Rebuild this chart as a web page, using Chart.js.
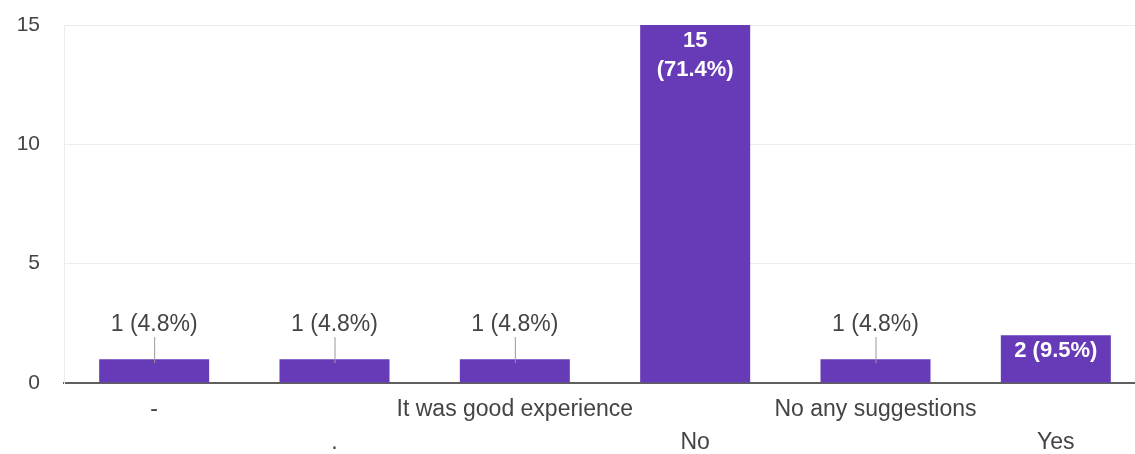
<!DOCTYPE html>
<html>
<head>
<meta charset="utf-8">
<script src="https://cdn.jsdelivr.net/npm/chart.js@4"></script>
<style>
  html, body { margin: 0; padding: 0; background: #fff; overflow: hidden; }
  #wrap { width: 1146px; height: 454px; }
</style>
</head>
<body>
<div id="wrap"><canvas id="myChart"></canvas></div>
<script>
'use strict';

// DATA
let answers = ['-', '.', 'It was good experience', 'No', 'No any suggestions', 'Yes'];
let counts = [1, 1, 1, 15, 1, 2];
let yTicks = [0, 5, 10, 15];

let purple = '#673ab7';
let textGray = '#444';
let fontFamily = '"Liberation Sans", Arial, sans-serif';

let total = counts.reduce((a, b) => a + b, 0);

// draws "n (x%)" on every bar, inside if it fits, else above with a small line
const barLabels = {
  id: 'barLabels',
  afterDatasetsDraw(chart) {
    const ctx = chart.ctx;
    const meta = chart.getDatasetMeta(0);
    ctx.save();
    meta.data.forEach((bar, i) => {
      const val = counts[i];
      const pct = (val / total * 100).toFixed(1) + '%';
      const x = bar.x;
      const top = bar.y;
      const h = bar.base - bar.y;
      ctx.textAlign = 'center';
      ctx.textBaseline = 'middle';
      if (h > 40) {
        ctx.fillStyle = '#fff';
        ctx.font = 'bold 22px ' + fontFamily;
        const one = val + ' (' + pct + ')';
        if (ctx.measureText(one).width < bar.width - 16) {
          ctx.fillText(one, x, top + 16);
        } else {
          ctx.fillText(String(val), x, top + 16);
          ctx.fillText('(' + pct + ')', x, top + 45);
        }
      } else {
        ctx.strokeStyle = '#999';
        ctx.lineWidth = 1;
        ctx.beginPath();
        ctx.moveTo(x + 0.5, top - 22);
        ctx.lineTo(x + 0.5, top + 4);
        ctx.stroke();
        ctx.fillStyle = textGray;
        ctx.font = '23px ' + fontFamily;
        ctx.fillText(val + ' (' + pct + ')', x, top - 34);
      }
    });
    ctx.restore();
  }
};

const data = {
  labels: answers,
  datasets: [
    {
      label: 'Responses',
      data: counts,
      backgroundColor: purple,
      borderWidth: 0,
      categoryPercentage: 1,
      barPercentage: 0.61
    }
  ]
};

const config = {
  type: 'bar',
  data: data,
  options: {
    responsive: true,
    maintainAspectRatio: false,
    animation: false,
    events: [],
    layout: {
      padding: { top: 25, left: 0, right: 0, bottom: 0 }
    },
    plugins: {
      legend: { display: false },
      tooltip: { enabled: false }
    },
    scales: {
      x: {
        grid: { display: false, drawTicks: false },
        border: { display: true, color: '#5f5f5f', width: 2 },
        ticks: {
          autoSkip: false,
          minRotation: 0,
          maxRotation: 0,
          padding: 10,
          color: textGray,
          font: { family: fontFamily, size: 23, lineHeight: '33px' },
          callback: function (value, index) {
            const label = this.getLabelForValue(value);
            // google staggers long labels on two rows
            return index % 2 === 0 ? label : ['', label];
          }
        },
        afterFit: (scale) => { scale.height = 71; }
      },
      y: {
        min: 0,
        max: 15,
        grid: { color: '#ececec', drawTicks: false },
        border: { display: true, color: '#ececec' },
        afterBuildTicks: (scale) => {
          scale.ticks = yTicks.map(v => ({ value: v }));
        },
        ticks: {
          padding: 24,
          color: textGray,
          font: { family: fontFamily, size: 21 }
        },
        afterFit: (scale) => {
          scale.width = 64;
          // the tick padding should not push the plot down
          scale.paddingTop = 0;
          scale.paddingBottom = 0;
        }
      }
    }
  },
  plugins: [barLabels]
};

const myChart = new Chart(
  document.getElementById('myChart'),
  config
);
</script>
</body>
</html>
